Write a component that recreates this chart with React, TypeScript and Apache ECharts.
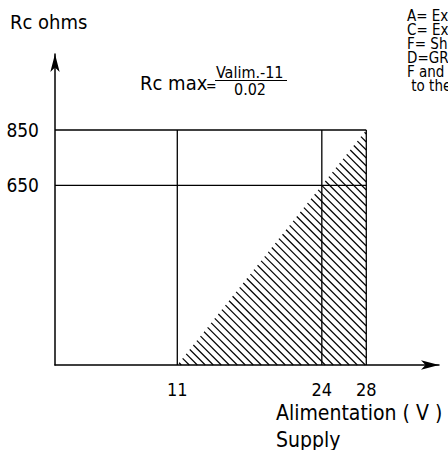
import React, { useEffect, useRef } from "react";
import * as echarts from "echarts";

// ---- data ----
const xTickValues = [11, 24, 28];
const yTickValues = [650, 850];
const frameX = [11, 24, 28]; // vertical frame lines (V)
const frameY = [650, 850]; // horizontal frame lines (ohms)
const hatchX = [11, 28, 28]; // allowed region (triangle) vertices, V
const hatchY = [0, 850, 0]; // allowed region vertices, ohms
const xMax = 34.54;
const yMax = 1125;
const yTitle = "Rc ohms";
const xTitle = ["Alimentation ( V )", "Supply"];
const formulaLeft = "Rc max";
const formulaNum = "Valim.-11";
const formulaDen = "0.02";
const legendLines = [
  "A= Excitation +",
  "C= Excitation -",
  "F= Shield",
  "D=GROUND",
  "F and D connected",
  " to the case",
];

const FONT = '"DejaVu Sans Condensed", "DejaVu Sans", sans-serif';

export default function App() {
  const ref = useRef<HTMLDivElement>(null);
  useEffect(() => {
    document.body.style.margin = "0";
    const chart = echarts.init(ref.current!, null, { renderer: "svg" });
    const yTop = Math.max(...frameY);
    const xRight = Math.max(...frameX);
    const frameSeries: any[] = [
      ...frameX.map((x) => ({
        type: "line",
        data: [
          [x, 0],
          [x, yTop],
        ],
        symbol: "none",
        silent: true,
        lineStyle: { color: "#000", width: 1.3 },
      })),
      ...frameY.map((y) => ({
        type: "line",
        data: [
          [0, y],
          [xRight, y],
        ],
        symbol: "none",
        silent: true,
        lineStyle: { color: "#000", width: 1.3 },
      })),
    ];
    const hatchSeries = {
      type: "custom",
      data: [0],
      silent: true,
      renderItem: (_params: any, api: any) => {
        const pts = hatchX.map((x, i) => api.coord([x, hatchY[i]]));
        const diffs = pts.map((p: number[]) => p[0] - p[1]);
        const cMin = Math.min(...diffs);
        const cMax = Math.max(...diffs);
        const step = 8;
        const children: any[] = [];
        for (let c = cMin + 4; c < cMax; c += step) {
          const hits: number[][] = [];
          for (let i = 0; i < pts.length; i++) {
            const a = pts[i];
            const b = pts[(i + 1) % pts.length];
            const fa = a[0] - a[1] - c;
            const fb = b[0] - b[1] - c;
            if ((fa <= 0 && fb > 0) || (fa > 0 && fb <= 0)) {
              const t = fa / (fa - fb);
              hits.push([a[0] + t * (b[0] - a[0]), a[1] + t * (b[1] - a[1])]);
            }
          }
          if (hits.length >= 2) {
            children.push({
              type: "line",
              shape: { x1: hits[0][0], y1: hits[0][1], x2: hits[1][0], y2: hits[1][1] },
              style: { stroke: "#000", lineWidth: 1.2 },
            });
          }
        }
        return { type: "group", children };
      },
    };
    const txt = (text: string, x: number, y: number, size: number, align = "left") => ({
      type: "text",
      x,
      y,
      silent: true,
      style: {
        text,
        fill: "#000",
        fontSize: size,
        fontFamily: FONT,
        textAlign: align,
        textVerticalAlign: "middle",
      },
    });
    chart.setOption({
      animation: false,
      backgroundColor: "#fff",
      grid: { left: 55, right: 9, top: 54, bottom: 85, containLabel: false },
      xAxis: {
        type: "value",
        min: 0,
        max: xMax,
        interval: 1,
        splitLine: { show: false },
        axisTick: { show: false },
        axisLine: {
          show: true,
          onZero: true,
          symbol: ["none", "arrow"],
          symbolSize: [7, 18],
          lineStyle: { color: "#000", width: 1.5 },
        },
        axisLabel: {
          margin: 24,
          verticalAlign: "middle",
          color: "#000",
          fontSize: 18,
          fontFamily: FONT,
          showMaxLabel: false,
          formatter: (v: number) =>
            xTickValues.includes(Math.round(v)) && Math.abs(v - Math.round(v)) < 1e-6 ? String(Math.round(v)) : "",
        },
      },
      yAxis: {
        type: "value",
        min: 0,
        max: yMax,
        interval: 50,
        splitLine: { show: false },
        axisTick: { show: false },
        axisLine: {
          show: true,
          onZero: true,
          symbol: ["none", "arrow"],
          symbolSize: [7, 18],
          lineStyle: { color: "#000", width: 1.5 },
        },
        axisLabel: {
          margin: 16,
          color: "#000",
          fontSize: 19,
          fontFamily: FONT,
          showMaxLabel: false,
          formatter: (v: number) => (yTickValues.includes(v) ? String(v) : ""),
        },
      },
      series: [hatchSeries, ...frameSeries],
      graphic: [
        txt(yTitle, 10, 22, 20),
        txt(formulaLeft, 140, 83, 20),
        txt("=", 206, 86, 14),
        txt(formulaNum, 216, 72.3, 16),
        {
          type: "line",
          silent: true,
          shape: { x1: 215, y1: 80.5, x2: 287, y2: 80.5 },
          style: { stroke: "#000", lineWidth: 1 },
        },
        txt(formulaDen, 250, 89.5, 16, "center"),
        {
          type: "text",
          x: 407,
          y: 8.5,
          silent: true,
          style: {
            text: legendLines.join("\n"),
            fill: "#000",
            fontSize: 15,
            fontFamily: FONT,
            lineHeight: 14,
            textAlign: "left",
            textVerticalAlign: "top",
          },
        },
        txt(xTitle[0], 276, 412.7, 21),
        txt(xTitle[1], 276, 439.7, 21),
      ],
    });
    return () => chart.dispose();
  }, []);
  return <div ref={ref} style={{ position: "absolute", left: 0, top: 0, width: 448, height: 450 }} />;
}
